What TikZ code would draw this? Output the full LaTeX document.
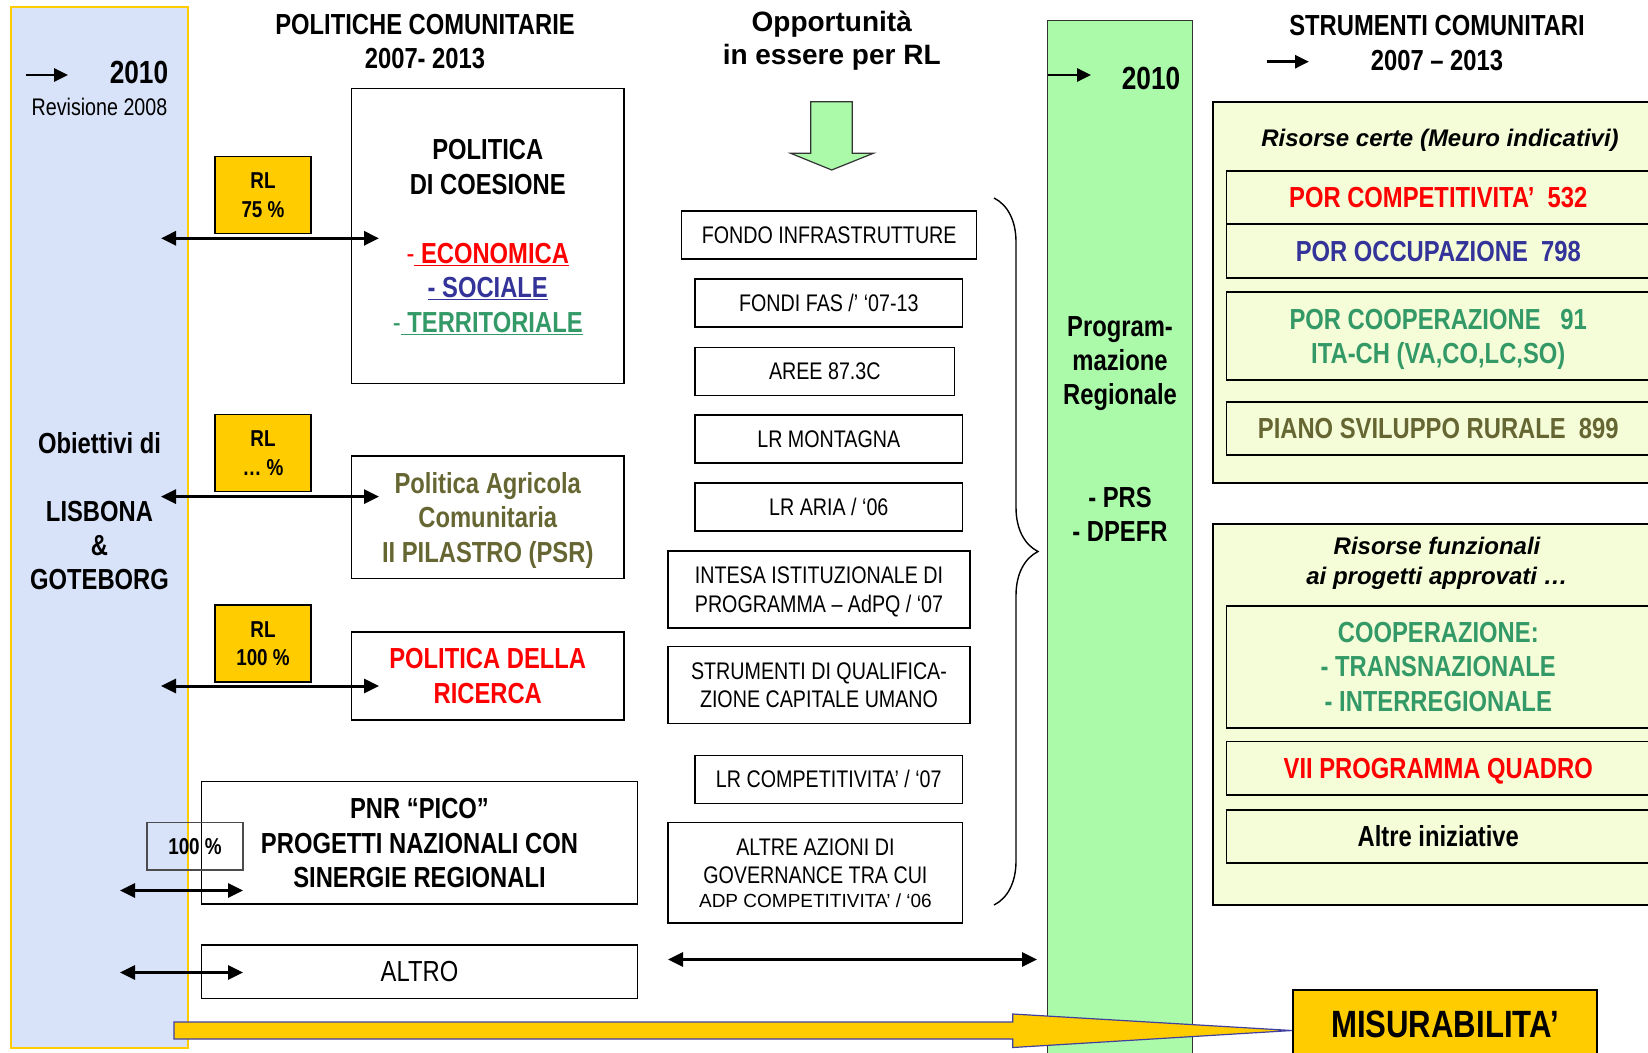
\documentclass[tikz,border=0pt]{standalone}
\usepackage{fontspec}
\setmainfont{Liberation Sans}[FakeStretch=0.82]
\newfontfamily\widefont{Liberation Sans}
\usetikzlibrary{arrows.meta,positioning,decorations.pathreplacing}
\definecolor{ecored}{HTML}{FF0000}
\definecolor{socblue}{HTML}{333399}
\definecolor{terrgreen}{HTML}{339966}
\definecolor{olivetxt}{HTML}{666633}
\definecolor{pillyellow}{HTML}{FFCC00}
\definecolor{lisblue}{HTML}{D8E2F8}
\definecolor{progreen}{HTML}{AAFAAA}
\definecolor{strumfill}{HTML}{F4FCD8}
\definecolor{arrowblue}{HTML}{4040A0}
\definecolor{colborder}{HTML}{333333}

\begin{document}
\begin{tikzpicture}[x=1pt,y=-1pt,
            box/.style={
                    draw,
                    line width=1.4pt,
                    inner sep=0pt,
                    align=center
                },
            bigtxt/.style={
                    align=center,
                    font=\fontsize{29}{34.5}\selectfont\bfseries
                },
            yeartxt/.style={
                    font=\fontsize{32}{36}\selectfont\bfseries
                },
            midbox/.style={
                    box,
                    minimum height=48pt,
                    font=\fontsize{24}{28.5}\selectfont
                },
            rlbox/.style={
                    box,
                    fill=pillyellow,
                    minimum width=96pt,
                    minimum height=77pt,
                    text depth=-3pt,
                    font=\fontsize{23}{28.3}\selectfont\bfseries
                },
            strbig/.style={
                    draw,
                    line width=1.8pt,
                    fill=strumfill,
                    minimum width=454pt,
                    minimum height=381pt
                },
            strbox/.style={
                    box,
                    bigtxt,
                    line width=1.8pt,
                    minimum width=423.5pt
                },
            ittxt/.style={
                    align=center,
                    font=\widefont\fontsize{24}{30}\selectfont\bfseries\itshape
                },
            dbl/.style={
                    {Triangle[length=15pt,width=14pt]}-{Triangle[length=15pt,width=14pt]},
                    line width=3pt
                },
            smallarr/.style={
                    -{Triangle[length=14pt,width=13pt]},
                    line width=2.8pt
                }
        ]
        \useasboundingbox (0,0) rectangle (1648,1052);
        \clip (0,0) rectangle (1648,1052);

        \node[draw=pillyellow,line width=2pt,fill=lisblue,minimum width=177.5pt,minimum height=1041pt,inner sep=0pt]
        (lisbona) at (99.25,527.5) {};
        \coordinate (la1) at (26,75);
        \coordinate (la2) at (68,75);
        \draw[smallarr] (la1) -- (la2);
        \node[yeartxt] (y1) at (139,72) {2010};
        \node[font=\fontsize{24}{28}\selectfont] (rev) at (99.5,107) {Revisione 2008};
        \node[bigtxt,font=\fontsize{29}{34}\selectfont\bfseries] (obiet) at (99.5,511)
        {Obiettivi di\\[34pt]LISBONA\\\&\\GOTEBORG};

        \node[bigtxt] (poltit) at (425,41.5) {POLITICHE COMUNITARIE\\2007- 2013};
        \node[align=center,font=\widefont\bfseries\fontsize{28}{32.3}\selectfont] (opptit) at (831.7,40.5)
        {Opportunità\\in essere per RL};
        \node[bigtxt,font=\fontsize{29}{35}\selectfont\bfseries] (strtit) at (1437,43.5)
        {STRUMENTI COMUNITARI\\2007 – 2013};
        \coordinate (sa1) at (1266.5,61.7);
        \coordinate (sa2) at (1309,61.7);
        \draw[smallarr] (sa1) -- (sa2);

        \node[rlbox] (rl1) at (263,195) {RL\\75 \%};
        \node[rlbox] (rl2) at (263,453.2) {RL\\… \%};
        \node[rlbox] (rl3) at (263,643.5) {RL\\100 \%};

        \node[box,bigtxt,minimum width=272.5pt,minimum height=295pt,text depth=-1pt] (coes) at (487.75,235.8)
        {POLITICA\\DI COESIONE\\[34.5pt]
            \textcolor{ecored}{{\mdseries -}\underline{ ECONOMICA}}\\
            \textcolor{socblue}{\underline{- SOCIALE}}\\
            \textcolor{terrgreen}{{\mdseries -}\underline{ TERRITORIALE}}};
        \node[box,bigtxt,text=olivetxt,minimum width=272.5pt,minimum height=122.4pt,text depth=0pt] (pac) at (487.75,517.2)
        {Politica Agricola\\Comunitaria\\II PILASTRO (PSR)};
        \node[box,bigtxt,text=ecored,minimum width=272.5pt,minimum height=88pt,text depth=-4pt] (ric) at (487.75,676)
        {POLITICA DELLA\\RICERCA};
        \node[box,bigtxt,minimum width=436pt,minimum height=122.3pt,text depth=-4pt] (pnr) at (419.5,842.9)
        {PNR “PICO”\\PROGETTI NAZIONALI CON\\SINERGIE REGIONALI};
        \node[box,draw=gray!60!black,font=\fontsize{23}{28}\selectfont\bfseries,minimum width=96pt,minimum height=47.6pt,
            text depth=-6pt] (cento) at (195,846.2) {100 \%};
        \node[box,font=\fontsize{29}{34}\selectfont,minimum width=436pt,minimum height=53.8pt,text depth=-6pt]
        (altro) at (419.5,971.7) {ALTRO};

        \coordinate (e1) at (161,238.3);
        \coordinate (f1) at (379,238.3);
        \coordinate (e2) at (161,496.6);
        \coordinate (f2) at (379,496.6);
        \coordinate (e3) at (161,686);
        \coordinate (f3) at (379,686);
        \coordinate (e4) at (120,890.5);
        \coordinate (f4) at (243,890.5);
        \coordinate (e5) at (120,972.5);
        \coordinate (f5) at (243,972.5);
        \draw[dbl] (e1) -- (f1);
        \draw[dbl] (e2) -- (f2);
        \draw[dbl] (e3) -- (f3);
        \draw[dbl] (e4) -- (f4);
        \draw[dbl] (e5) -- (f5);

        \draw[draw=colborder,line width=1.2pt,fill=progreen]
        (810.7,101.7) -- (852.3,101.7) -- (852.3,153.3) -- (873.3,153.3) -- (831.7,170)
        -- (790.7,153.3) -- (810.7,153.3) -- cycle;

        \node[midbox,minimum width=295pt] (fondo) at (829.2,235) {FONDO INFRASTRUTTURE};
        \node[midbox,minimum width=267.7pt] (fas) at (828.8,303) {FONDI FAS /’ ‘07-13};
        \node[midbox,minimum width=259.7pt] (aree) at (824.8,371.2) {AREE 87.3C};
        \node[midbox,minimum width=267.7pt] (mont) at (828.8,439) {LR MONTAGNA};
        \node[midbox,minimum width=267.7pt] (aria) at (828.8,506.8) {LR ARIA / ‘06};
        \node[midbox,minimum width=302pt,minimum height=77pt,text depth=-1pt] (intesa) at (819,589.5)
        {INTESA ISTITUZIONALE DI\\PROGRAMMA – AdPQ / ‘07};
        \node[midbox,minimum width=302pt,minimum height=77pt,text depth=-4pt] (qualif) at (819,685)
        {STRUMENTI DI QUALIFICA-\\ZIONE CAPITALE UMANO};
        \node[midbox,minimum width=267.7pt] (lrcomp) at (828.8,779.3) {LR COMPETITIVITA’ / ‘07};
        \node[midbox,minimum width=294.7pt,minimum height=100.5pt,text depth=-2pt] (altre) at (815.4,872.8)
        {ALTRE AZIONI DI\\GOVERNANCE TRA CUI\\[-5pt]{\widefont\fontsize{19}{26}\selectfont ADP COMPETITIVITA’ / ‘06}};

        \coordinate (bt) at (994,198);
        \coordinate (bb) at (994,905);
        \draw[decorate,decoration={brace,amplitude=44pt},line width=1.4pt] (bt) -- (bb);
        \coordinate (e6) at (668,959.5);
        \coordinate (f6) at (1037,959.5);
        \draw[dbl] (e6) -- (f6);

        \node[draw=colborder,line width=1.5pt,fill=progreen,minimum width=145pt,minimum height=1060pt,inner sep=0pt]
        (prog) at (1120,550.7) {};
        \coordinate (ga1) at (1048,75);
        \coordinate (ga2) at (1091,75);
        \draw[smallarr] (ga1) -- (ga2);
        \node[yeartxt] (y2) at (1151,78) {2010};
        \node[bigtxt,font=\fontsize{29}{34.3}\selectfont\bfseries] (progtxt) at (1120,429)
        {Program-\\mazione\\Regionale\\[68.6pt]- PRS\\- DPEFR};

        \node[strbig] (certe) at (1440,292.2) {};
        \node[ittxt] (certetxt) at (1440,140.3) {Risorse certe (Meuro indicativi)};
        \node[strbox,text=ecored,minimum height=53.3pt] (porcomp) at (1438.25,197.3) {POR COMPETITIVITA’~~532};
        \node[strbox,text=socblue,minimum height=54.3pt] (porocc) at (1438.25,251.2) {POR OCCUPAZIONE~~798};
        \node[strbox,text=terrgreen,minimum height=87.7pt,text depth=-2pt] (porcoop) at (1438.25,336.2)
        {POR COOPERAZIONE~~~91\\ITA-CH (VA,CO,LC,SO)};
        \node[strbox,text=olivetxt,minimum height=53.3pt] (psr) at (1438.25,428.3) {PIANO SVILUPPO RURALE~~899};

        \node[strbig] (funz) at (1440,714.5) {};
        \node[ittxt] (funztxt) at (1437,563.7) {Risorse funzionali\\ai progetti approvati …};
        \node[strbox,text=terrgreen,minimum height=122.4pt,text depth=-4pt] (coop) at (1438.25,666.8)
        {COOPERAZIONE:\\- TRANSNAZIONALE\\- INTERREGIONALE};
        \node[strbox,text=ecored,minimum height=53.5pt,text depth=-8pt] (vii) at (1438.25,768.2) {VII PROGRAMMA QUADRO};
        \node[strbox,minimum height=52.7pt,text depth=-4pt] (altreini) at (1438.25,836.3) {Altre iniziative};

        \coordinate (yt) at (1292,1030.5);
        \draw[draw=arrowblue,line width=1.2pt,fill=pillyellow]
        (174,1022) -- (1012.7,1022) -- (1012.7,1014) -- (yt) -- (1012.7,1047.5)
        -- (1012.7,1039) -- (174,1039) -- cycle;
        \node[draw,line width=1.8pt,fill=pillyellow,minimum width=304pt,minimum height=69pt,
            font=\fontsize{38}{44}\selectfont\bfseries] (misura) at (1445,1024.5) {MISURABILITA’};
    \end{tikzpicture}
\end{document}
